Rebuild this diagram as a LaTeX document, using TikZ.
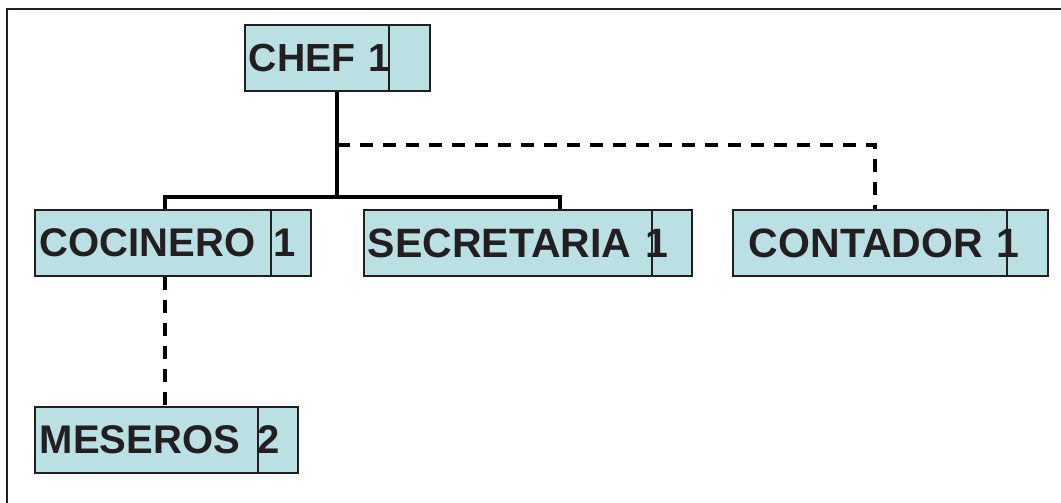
\documentclass[tikz,border=0pt]{standalone}
\usepackage{fontspec}
\setmainfont{Liberation Sans}
\usetikzlibrary{calc}
\definecolor{boxfill}{RGB}{187,224,228}
\definecolor{ink}{RGB}{35,31,32}
\tikzset{
  orgbox/.style={draw=ink, line width=1.8pt, fill=boxfill, anchor=north west,
    inner ysep=0pt, align=left, minimum height=66pt,
    font=\bfseries\fontsize{40}{40}\selectfont, text=ink},
  bigtext/.style={font=\bfseries\fontsize{41}{41}\selectfont},
  smalltext/.style={font=\bfseries\fontsize{39.2}{39.2}\selectfont},
  divider/.style={draw=ink, line width=1.3pt},
  solidlink/.style={draw=black, line width=3.4pt},
  dashlink/.style={draw=black, line width=3.4pt, dash pattern=on 13pt off 10pt},
  frameline/.style={draw=ink, line width=2.4pt}
}
\begin{document}
\begin{tikzpicture}[x=1pt,y=-1pt]
\useasboundingbox (0,0) rectangle (1061,503);
\fill[white] (0,0) rectangle (1061,503);
\draw[frameline] (7,503) -- (7,9) -- (1061,9);

% boxes
\node[orgbox, smalltext, inner xsep=4pt, text width=177pt, minimum width=185pt] (chef) at (244,24) {CHEF 1};
\node[orgbox, inner xsep=5pt, text width=266pt, minimum width=276pt] (cocinero) at (34,209) {COCINERO\kern5pt\ 1};
\node[orgbox, bigtext, inner xsep=4pt, text width=320pt, minimum width=328pt] (secretaria) at (363,209) {SECRETARIA 1};
\node[orgbox, bigtext, inner xsep=16pt, text width=283pt, minimum width=315pt] (contador) at (732,209) {CONTADOR 1};
\node[orgbox, inner xsep=5pt, text width=253pt, minimum width=263pt] (meseros) at (34,406) {MESEROS\kern4pt\ 2};

% dividers
\draw[divider] ($(chef.north west)+(145,0)$) -- ($(chef.south west)+(145,0)$);
\draw[divider] ($(cocinero.north west)+(237,0)$) -- ($(cocinero.south west)+(237,0)$);
\draw[divider] ($(secretaria.north west)+(289,0)$) -- ($(secretaria.south west)+(289,0)$);
\draw[divider] ($(contador.north west)+(275,0)$) -- ($(contador.south west)+(275,0)$);
\draw[divider] ($(meseros.north west)+(224,0)$) -- ($(meseros.south west)+(224,0)$);

% connectors
\coordinate (cheftap) at ($(chef.south west)+(93,0)$);
\coordinate (bus) at ($(cheftap)+(0,105)$);
\coordinate (cocin) at ($(cocinero.north west)+(131,0)$);
\coordinate (secin) at ($(secretaria.north west)+(197,0)$);
\coordinate (dashtap) at ($(cheftap)+(0,53)$);
\coordinate (contin) at ($(contador.north west)+(143,0)$);
\coordinate (cocout) at ($(cocinero.south west)+(131,0)$);
\coordinate (mesin) at ($(meseros.north west)+(131,0)$);

\draw[solidlink] (cheftap) -- (bus);
\draw[solidlink, line join=miter] (cocin) |- (bus) -| (secin);
\draw[dashlink] (dashtap) -| (contin);
\draw[dashlink] (cocout) -- (mesin);
\end{tikzpicture}
\end{document}
